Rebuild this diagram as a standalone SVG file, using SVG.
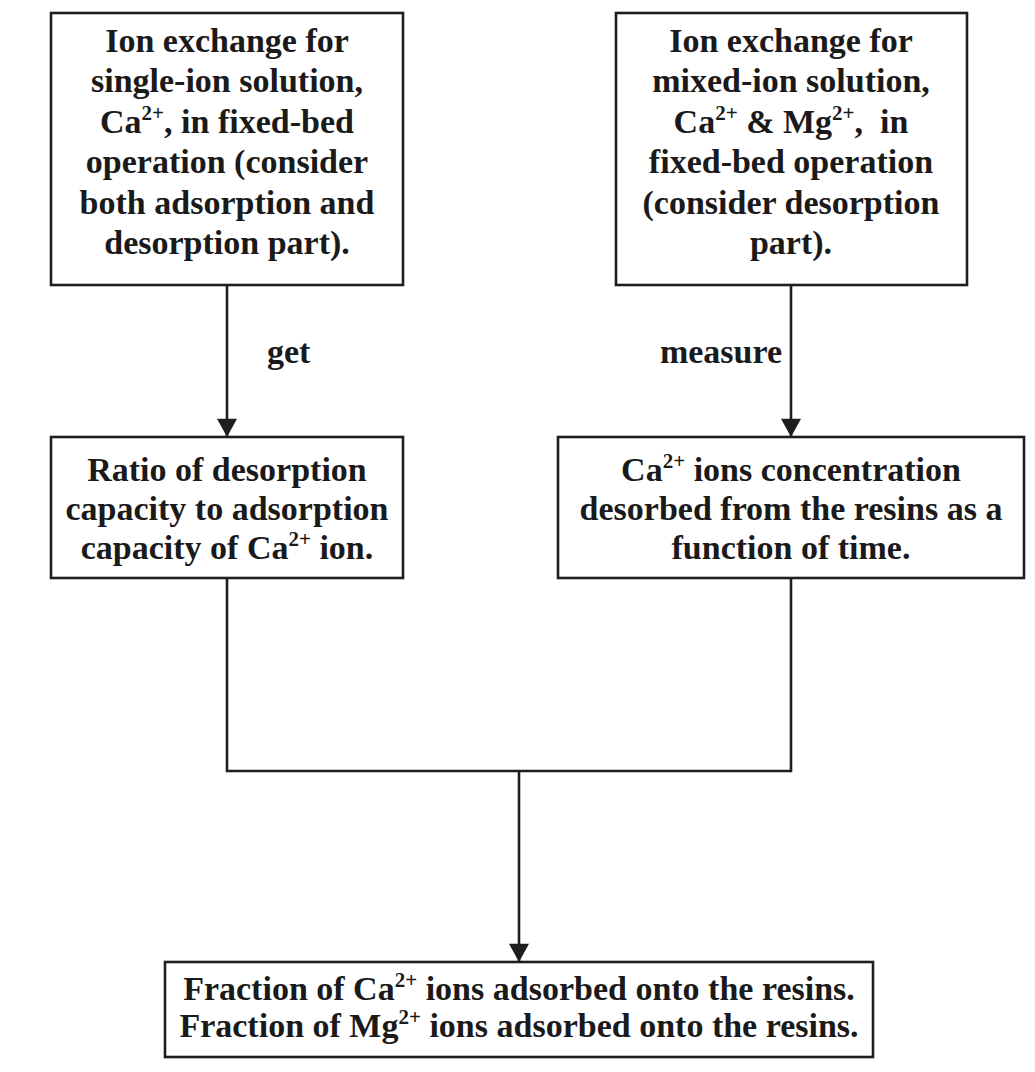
<svg xmlns="http://www.w3.org/2000/svg" width="1035" height="1072" viewBox="0 0 1035 1072">
  <style>
    .box { fill: #ffffff; stroke: #1e1e1e; stroke-width: 2.6; }
    .txt { font-family: "Liberation Serif", "Times New Roman", serif; font-weight: bold; font-size: 34px; fill: #1a1a1a; text-anchor: middle; }
    .lbl { font-family: "Liberation Serif", "Times New Roman", serif; font-weight: bold; font-size: 34px; fill: #1a1a1a; }
    .sup { font-size: 21px; }
    .wire { fill: none; stroke: #1e1e1e; stroke-width: 2.6; }
  </style>
  <defs>
    <!-- solid downward arrowhead, tip at the end of the line -->
    <marker id="head" markerUnits="userSpaceOnUse" markerWidth="22" markerHeight="20" refX="20" refY="11" orient="auto" viewBox="0 0 20 22">
      <path d="M0,0 L20,11 L0,22 Z" fill="#1e1e1e"/>
    </marker>
  </defs>
  <rect width="1035" height="1072" fill="#ffffff"/>

  <!-- connectors -->
  <g id="connectors">
    <line class="wire" x1="227" y1="285" x2="227" y2="437" marker-end="url(#head)"/>
    <line class="wire" x1="791" y1="285" x2="791" y2="437" marker-end="url(#head)"/>
    <polyline class="wire" points="227,578 227,771 791,771 791,578"/>
    <line class="wire" x1="519" y1="771" x2="519" y2="962" marker-end="url(#head)"/>
    <text class="lbl" x="267" y="363">get</text>
    <text class="lbl" x="782" y="363" text-anchor="end">measure</text>
  </g>

  <!-- single-ion experiment -->
  <g id="single-ion">
    <rect class="box" x="51" y="13" width="352" height="272"/>
    <text class="txt" x="227" y="52">Ion exchange for</text>
    <text class="txt" x="227" y="92">single-ion solution,</text>
    <text class="txt" x="227" y="133">Ca<tspan class="sup" dy="-13">2+</tspan><tspan dy="13">, in fixed-bed</tspan></text>
    <text class="txt" x="227" y="173">operation (consider</text>
    <text class="txt" x="227" y="214">both adsorption and</text>
    <text class="txt" x="227" y="254">desorption part).</text>
  </g>

  <!-- mixed-ion experiment -->
  <g id="mixed-ion">
    <rect class="box" x="616" y="13" width="351" height="272"/>
    <text class="txt" x="791" y="52">Ion exchange for</text>
    <text class="txt" x="791" y="92">mixed-ion solution,</text>
    <text class="txt" x="791" y="133">Ca<tspan class="sup" dy="-13">2+</tspan><tspan dy="13"> &amp; Mg</tspan><tspan class="sup" dy="-13">2+</tspan><tspan dy="13">,&#160; in</tspan></text>
    <text class="txt" x="791" y="173">fixed-bed operation</text>
    <text class="txt" x="791" y="214">(consider desorption</text>
    <text class="txt" x="791" y="254">part).</text>
  </g>

  <!-- capacity ratio -->
  <g id="ratio">
    <rect class="box" x="51" y="437" width="352" height="141"/>
    <text class="txt" x="227" y="481">Ratio of desorption</text>
    <text class="txt" x="227" y="520">capacity to adsorption</text>
    <text class="txt" x="227" y="559">capacity of Ca<tspan class="sup" dy="-13">2+</tspan><tspan dy="13"> ion.</tspan></text>
  </g>

  <!-- desorbed concentration -->
  <g id="concentration">
    <rect class="box" x="558" y="437" width="466" height="141"/>
    <text class="txt" x="791" y="481">Ca<tspan class="sup" dy="-13">2+</tspan><tspan dy="13"> ions concentration</tspan></text>
    <text class="txt" x="791" y="520">desorbed from the resins as a</text>
    <text class="txt" x="791" y="559">function of time.</text>
  </g>

  <!-- adsorbed fractions -->
  <g id="fractions">
    <rect class="box" x="165" y="962" width="708" height="95"/>
    <text class="txt" x="519" y="1000">Fraction of Ca<tspan class="sup" dy="-13">2+</tspan><tspan dy="13"> ions adsorbed onto the resins.</tspan></text>
    <text class="txt" x="519" y="1037">Fraction of Mg<tspan class="sup" dy="-13">2+</tspan><tspan dy="13"> ions adsorbed onto the resins.</tspan></text>
  </g>
</svg>
